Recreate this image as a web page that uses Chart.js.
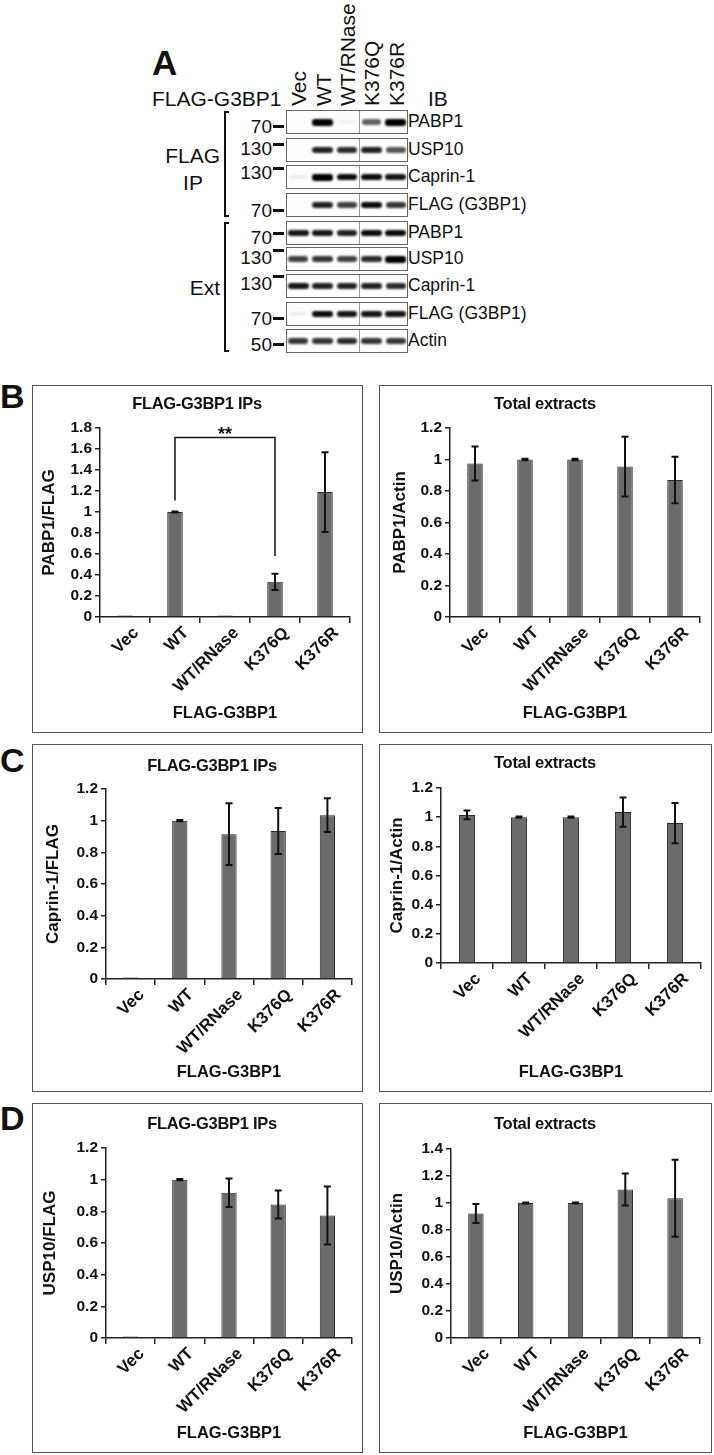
<!DOCTYPE html>
<html>
<head>
<meta charset="utf-8">
<script src="https://cdn.jsdelivr.net/npm/chart.js@4.4.1/dist/chart.umd.min.js"></script>
<style>
  body { margin: 0; width: 714px; height: 1455px; position: relative; background: #fff; overflow: hidden;
         font-family: "Liberation Sans", Arial, sans-serif; color: #111; }
  .t { position: absolute; white-space: nowrap; line-height: 1; }
  .box { position: absolute; border: 1px solid #555; background: #fff; }
  .box canvas { display: block; }
  .row { position: absolute; border: 1px solid #666; background: #fdfdfd; box-sizing: border-box; overflow: hidden; }
  .band { position: absolute; border-radius: 3px; filter: blur(0.9px); }
</style>
</head>
<body>
<script>
// ---- data ----
const categories = ["Vec", "WT", "WT/RNase", "K376Q", "K376R"];

const pabp1IpMean  = [0.005, 1.0, 0.005, 0.335, 1.19];
const pabp1IpErr   = [0, 0.004, 0, 0.077, 0.38];
const pabp1ExtMean = [0.975, 1.0, 1.0, 0.955, 0.87];
const pabp1ExtErr  = [0.108, 0.004, 0.004, 0.19, 0.148];

const caprinIpMean  = [0.005, 1.0, 0.915, 0.935, 1.035];
const caprinIpErr   = [0, 0.004, 0.195, 0.145, 0.107];
const caprinExtMean = [1.015, 1.0, 1.0, 1.035, 0.96];
const caprinExtErr  = [0.03, 0.004, 0.004, 0.1, 0.138];

const usp10IpMean  = [0.005, 1.0, 0.918, 0.843, 0.774];
const usp10IpErr   = [0, 0.004, 0.09, 0.088, 0.183];
const usp10ExtMean = [0.922, 1.0, 1.0, 1.1, 1.035];
const usp10ExtErr  = [0.07, 0.004, 0.004, 0.118, 0.285];

// significance bracket (panel B, IP): WT vs K376Q
const sigPair = [1, 3];
const sigLegs = [1.11, 0.58];
const sigTop = 1.71;
const sigLabel = "**";

// western blot (panel A): band strength per lane, 0 = nothing
const blotLabels  = ["PABP1", "USP10", "Caprin-1", "FLAG (G3BP1)", "PABP1", "USP10", "Caprin-1", "FLAG (G3BP1)", "Actin"];
const blotMarkers = ["70", "130", "130", "70", "70", "130", "130", "70", "50"];
const ipPabp1   = [0, 1.0, 0.03, 0.55, 1.0];
const ipUsp10   = [0, 0.85, 0.8, 0.85, 0.6];
const ipCaprin  = [0.04, 1.0, 0.95, 0.95, 0.9];
const ipFlag    = [0, 0.85, 0.7, 0.95, 0.75];
const extPabp1  = [0.9, 0.9, 0.85, 0.95, 0.95];
const extUsp10  = [0.7, 0.75, 0.7, 0.8, 1.0];
const extCaprin = [0.9, 0.85, 0.85, 0.85, 0.8];
const extFlag   = [0.04, 0.95, 0.9, 0.9, 0.9];
const extActin  = [0.75, 0.75, 0.8, 0.75, 0.75];
const blotBands = [ipPabp1, ipUsp10, ipCaprin, ipFlag, extPabp1, extUsp10, extCaprin, extFlag, extActin];

// ---- helpers ----
function addText(text, x, y, size, opts = {}) {
  const d = document.createElement("div");
  d.className = "t";
  d.textContent = text;
  d.style.fontSize = size + "px";
  d.style.fontWeight = opts.bold ? "bold" : "normal";
  d.style.left = x + "px";
  d.style.top = (y - 0.49 * size) + "px";
  const shift = opts.align === "right" ? "-100%" : opts.align === "center" ? "-50%" : "0";
  d.style.transform = "translateX(" + shift + ")";
  if (opts.spacing) d.style.letterSpacing = opts.spacing + "px";
  document.body.appendChild(d);
  return d;
}
function addRect(x, y, w, h, color) {
  const d = document.createElement("div");
  d.style.cssText = "position:absolute;left:" + x + "px;top:" + y + "px;width:" + w + "px;height:" + h + "px;background:" + color;
  document.body.appendChild(d);
}

// ---- panel A: blot ----
const blotLeft = 286, blotRight = 408, rowH = 24;
const rowTops = [110, 138, 165, 193, 221, 247, 274, 302, 329];
const markerTextY = [126, 148, 172, 210, 237, 257, 283, 318, 344];
const markerDashY = [126, 144, 168, 210, 233, 250, 276, 318, 344];
const laneW = (blotRight - blotLeft) / categories.length;

addText("A", 152, 62, 35, { bold: true });
addText("FLAG-G3BP1", 152, 98, 21);
addText("IB", 428, 98, 21);

categories.forEach((c, i) => {
  const d = document.createElement("div");
  d.className = "t";
  d.textContent = c;
  d.style.fontSize = "21px";
  d.style.left = (blotLeft + laneW * (i + 0.5)) + "px";
  d.style.top = "106px";
  d.style.transformOrigin = "0 0";
  d.style.transform = "rotate(-90deg) translate(0,-50%)";
  document.body.appendChild(d);
});

blotBands.forEach((bands, r) => {
  const row = document.createElement("div");
  row.className = "row";
  row.style.left = blotLeft + "px";
  row.style.top = rowTops[r] + "px";
  row.style.width = (blotRight - blotLeft) + "px";
  row.style.height = rowH + "px";
  bands.forEach((v, i) => {
    if (v <= 0) return;
    const b = document.createElement("div");
    b.className = "band";
    const w = 18 + 3 * v, h = 4 + 3 * v;
    b.style.left = (laneW * (i + 0.5) - w / 2 - 1) + "px";
    b.style.top = (rowH / 2 - h / 2 - 1) + "px";
    b.style.width = w + "px";
    b.style.height = h + "px";
    const alpha = v < 0.1 ? v * 1.5 : 0.15 + 0.85 * v;
    b.style.background = "rgba(0,0,0," + alpha + ")";
    row.appendChild(b);
  });
  const sep = document.createElement("div");
  sep.style.cssText = "position:absolute;top:0;bottom:0;width:1px;background:#999;left:" + (359 - blotLeft - 1) + "px";
  row.appendChild(sep);
  document.body.appendChild(row);

  addText(blotMarkers[r], 272, markerTextY[r], 19, { align: "right" });
  addRect(273, markerDashY[r] - 1.5, 11, 3, "#111");
  addText(blotLabels[r], 408, rowTops[r] + rowH / 2, 17.5);
});

// brackets
addRect(224, 111, 2, 106, "#111"); addRect(224, 111, 5, 2, "#111"); addRect(224, 215, 5, 2, "#111");
addRect(224, 222, 2, 130, "#111"); addRect(224, 222, 5, 2, "#111"); addRect(224, 350, 5, 2, "#111");
addText("FLAG", 220, 155, 21, { align: "right" });
addText("IP", 193, 182, 21, { align: "center" });
addText("Ext", 220, 287, 21, { align: "right" });

// ---- panels B-D: bar charts ----
addText("B", 0, 396, 34, { bold: true });
addText("C", 0, 760, 34, { bold: true });
addText("D", 0, 1118, 34, { bold: true });

Chart.defaults.font.family = '"Liberation Sans", Arial, sans-serif';
Chart.defaults.color = "#111";

const errorBars = {
  id: "errorBars",
  afterDatasetsDraw(chart) {
    const { ctx } = chart;
    const y = chart.scales.y;
    const ds = chart.data.datasets[0];
    ctx.save();
    ctx.strokeStyle = "#111";
    ctx.lineWidth = 2;
    chart.getDatasetMeta(0).data.forEach((bar, i) => {
      const e = ds.errors[i];
      if (!e) return;
      const top = y.getPixelForValue(ds.data[i] + e);
      const bot = y.getPixelForValue(ds.data[i] - e);
      ctx.beginPath();
      ctx.moveTo(bar.x, top); ctx.lineTo(bar.x, bot);
      ctx.moveTo(bar.x - 3.5, top); ctx.lineTo(bar.x + 3.5, top);
      ctx.moveTo(bar.x - 3.5, bot); ctx.lineTo(bar.x + 3.5, bot);
      ctx.stroke();
    });
    ctx.restore();
  }
};

const sigBracket = {
  id: "sigBracket",
  afterDatasetsDraw(chart) {
    const { ctx } = chart;
    const x = chart.scales.x, y = chart.scales.y;
    const x0 = x.getPixelForValue(sigPair[0]), x1 = x.getPixelForValue(sigPair[1]);
    const yt = y.getPixelForValue(sigTop);
    ctx.save();
    ctx.strokeStyle = "#111";
    ctx.lineWidth = 1.5;
    ctx.beginPath();
    ctx.moveTo(x0, y.getPixelForValue(sigLegs[0]));
    ctx.lineTo(x0, yt);
    ctx.lineTo(x1, yt);
    ctx.lineTo(x1, y.getPixelForValue(sigLegs[1]));
    ctx.stroke();
    ctx.fillStyle = "#111";
    ctx.font = 'bold 18px "Liberation Sans", Arial, sans-serif';
    ctx.textAlign = "center";
    ctx.textBaseline = "alphabetic";
    ctx.fillText(sigLabel, (x0 + x1) / 2, yt + 3);
    ctx.restore();
  }
};

const panels = [
  { box: [32, 385, 331, 348], plot: { left: 100, right: 350, top: 428, bottom: 617 }, yMax: 1.8,
    yTitle: "PABP1/FLAG", yTitleX: 49, title: "FLAG-G3BP1 IPs", titleX: 197, titleY: 403,
    mean: pabp1IpMean, err: pabp1IpErr, extra: [sigBracket] },
  { box: [379, 385, 333, 348], plot: { left: 450, right: 700, top: 428, bottom: 617 }, yMax: 1.2,
    yTitle: "PABP1/Actin", yTitleX: 400, title: "Total extracts", titleX: 545, titleY: 403,
    mean: pabp1ExtMean, err: pabp1ExtErr, extra: [] },
  { box: [32, 744, 331, 348], plot: { left: 106, right: 352, top: 789, bottom: 979 }, yMax: 1.2,
    yTitle: "Caprin-1/FLAG", yTitleX: 53, title: "FLAG-G3BP1 IPs", titleX: 212, titleY: 765,
    mean: caprinIpMean, err: caprinIpErr, extra: [] },
  { box: [379, 744, 333, 348], plot: { left: 441, right: 701, top: 788, bottom: 963 }, yMax: 1.2,
    yTitle: "Caprin-1/Actin", yTitleX: 397, title: "Total extracts", titleX: 545, titleY: 762,
    mean: caprinExtMean, err: caprinExtErr, extra: [] },
  { box: [32, 1103, 331, 350], plot: { left: 106, right: 352, top: 1148, bottom: 1338 }, yMax: 1.2,
    yTitle: "USP10/FLAG", yTitleX: 50, title: "FLAG-G3BP1 IPs", titleX: 212, titleY: 1123,
    mean: usp10IpMean, err: usp10IpErr, extra: [] },
  { box: [379, 1103, 333, 350], plot: { left: 451, right: 700, top: 1149, bottom: 1338 }, yMax: 1.4,
    yTitle: "USP10/Actin", yTitleX: 397, title: "Total extracts", titleX: 545, titleY: 1123,
    mean: usp10ExtMean, err: usp10ExtErr, extra: [] },
];

panels.forEach(p => {
  const [bx, by, bw, bh] = p.box;
  const cl = bx + 1, ct = by + 1, cw = bw - 2, ch = bh - 2;
  const box = document.createElement("div");
  box.className = "box";
  box.style.left = bx + "px";
  box.style.top = by + "px";
  box.style.width = cw + "px";
  box.style.height = ch + "px";
  const canvas = document.createElement("canvas");
  canvas.width = cw;
  canvas.height = ch;
  canvas.style.width = cw + "px";
  canvas.style.height = ch + "px";
  box.appendChild(canvas);
  document.body.appendChild(box);

  const padL = p.yTitleX - cl - 10;
  const axisColor = "#222";
  new Chart(canvas, {
    type: "bar",
    data: {
      labels: categories,
      datasets: [{
        data: p.mean,
        errors: p.err,
        backgroundColor: "#6b6b6b",
        borderColor: "#2b2b2b",
        borderWidth: 1,
        barPercentage: 0.31,
        categoryPercentage: 1,
        minBarLength: 1.5,
      }],
    },
    options: {
      responsive: false,
      animation: false,
      devicePixelRatio: 1,
      layout: { padding: { left: padL, right: cl + cw - p.plot.right, top: p.plot.top - ct, bottom: 0 } },
      plugins: { legend: { display: false }, tooltip: { enabled: false } },
      scales: {
        x: {
          grid: { display: true, drawOnChartArea: false, tickLength: 6, color: axisColor, lineWidth: 1.5 },
          border: { color: axisColor, width: 1.5 },
          ticks: { autoSkip: false, minRotation: 45, maxRotation: 45, padding: 0, labelOffset: 11,
                   font: { size: 17, weight: "bold" }, color: "#111" },
          title: { display: true, text: "FLAG-G3BP1", color: "#111", font: { size: 16.5, weight: "bold" },
                   padding: { top: 0, bottom: 9 } },
          afterFit: s => { s.height = ct + ch - p.plot.bottom; },
        },
        y: {
          min: 0,
          max: p.yMax,
          grid: { display: true, drawOnChartArea: false, tickLength: 5, color: axisColor, lineWidth: 1.5 },
          border: { color: axisColor, width: 1.5 },
          ticks: { stepSize: 0.2, autoSkip: false, padding: 3, font: { size: 15.5, weight: "bold" }, color: "#111",
                   callback: v => String(Math.round(v * 10) / 10) },
          title: { display: true, text: p.yTitle, color: "#111", font: { size: 17, weight: "bold" },
                   padding: { top: 0, bottom: 0 } },
          afterFit: s => { s.width = p.plot.left - cl - padL; },
        },
      },
    },
    plugins: [errorBars, ...p.extra],
  });

  addText(p.title, p.titleX, p.titleY, 16.5, { bold: true, align: "center", spacing: -0.3 });
});
</script>
</body>
</html>
